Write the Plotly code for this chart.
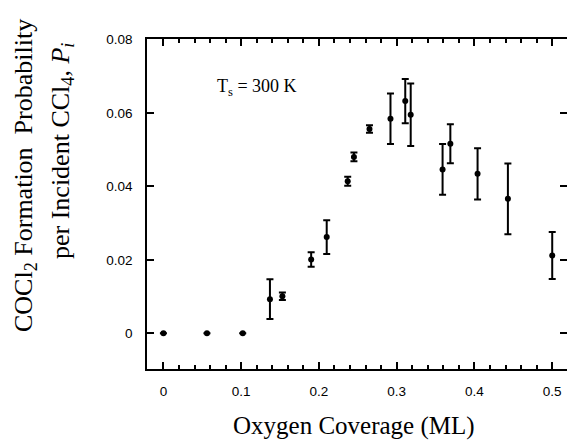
import plotly.graph_objects as go

# Data
coverage = [0.0, 0.056, 0.102, 0.137, 0.153, 0.190, 0.210, 0.237, 0.245,
            0.265, 0.292, 0.311, 0.318, 0.359, 0.369, 0.404, 0.443, 0.500]
probability = [0.0, 0.0, 0.0, 0.0093, 0.0101, 0.0201, 0.0262, 0.0414, 0.0480,
               0.0556, 0.0584, 0.0632, 0.0595, 0.0446, 0.0516, 0.0434, 0.0366, 0.0212]
error = [None, None, None, 0.0054, 0.0010, 0.0020, 0.0046, 0.0012, 0.0012,
         0.0010, 0.0069, 0.0060, 0.0085, 0.0069, 0.0053, 0.0070, 0.0096, 0.0064]

x_ticks = [0, 0.1, 0.2, 0.3, 0.4, 0.5]
y_ticks = [0, 0.02, 0.04, 0.06, 0.08]

SERIF = "Liberation Serif, Times New Roman, serif"
SANS = "Liberation Sans, Arial, sans-serif"

fig = go.Figure()
fig.add_trace(go.Scatter(
    x=coverage, y=probability, mode="markers",
    marker=dict(color="black", size=6),
    error_y=dict(type="data", array=error, visible=True,
                 color="black", thickness=2, width=3.5),
    showlegend=False,
))
# dummy trace to show the right-hand tick marks
fig.add_trace(go.Scatter(x=[None], y=[None], yaxis="y2", showlegend=False,
                         hoverinfo="skip"))

yr = [-0.0097, 0.0801]
fig.update_layout(
    width=567, height=440,
    margin=dict(l=147, r=0, t=39, b=71),
    paper_bgcolor="white", plot_bgcolor="white",
    xaxis=dict(
        range=[-0.0211, 0.519], tickvals=x_ticks,
        ticktext=[f"{v:g}" for v in x_ticks],
        ticks="inside", ticklen=7, tickwidth=1.5, tickcolor="black",
        minor=dict(dtick=0.02, tick0=0, ticks="inside", ticklen=4,
                   tickwidth=1.5, tickcolor="black", showgrid=False),
        showline=True, linecolor="black", linewidth=1.5, mirror="ticks",
        showgrid=False, zeroline=False,
        tickfont=dict(family=SANS, size=13.5, color="black"),
        ticklabelstandoff=9,
    ),
    yaxis=dict(
        range=yr, tickvals=y_ticks,
        ticktext=[f"{v:g}" for v in y_ticks],
        ticks="inside", ticklen=7, tickwidth=1.5, tickcolor="black",
        showline=True, linecolor="black", linewidth=1.5, mirror=False,
        showgrid=False, zeroline=False,
        tickfont=dict(family=SANS, size=13.5, color="black"),
        ticklabelstandoff=10,
    ),
    yaxis2=dict(
        range=yr, tickvals=y_ticks, overlaying="y", side="right",
        ticks="inside", ticklen=7, tickwidth=1.5, tickcolor="black",
        showticklabels=False, showline=False, showgrid=False, zeroline=False,
    ),
)

# convert pixel positions for the title annotations into paper coordinates
plot_l, plot_r, plot_t, plot_b = 147, 567, 39, 369
def px_to_paper(px, py):
    return (px - plot_l) / (plot_r - plot_l), (plot_b - py) / (plot_b - plot_t)

fig.add_annotation(text="T<sub>s</sub> = 300 K", x=0.066, y=0.0668,
                   xref="x", yref="y", xanchor="left", yanchor="middle",
                   showarrow=False, font=dict(family=SERIF, size=18, color="black"))

ax, ay = px_to_paper(354, 426)
fig.add_annotation(text="Oxygen Coverage (ML)", x=ax, y=ay,
                   xref="paper", yref="paper", xanchor="center", yanchor="middle",
                   showarrow=False, font=dict(family=SERIF, size=25, color="black"))

l1x, l1y = px_to_paper(25, 176)
l2x, l2y = px_to_paper(62, 151)
fig.add_annotation(text="COCl<sub>2</sub> Formation\u00a0\u00a0Probability",
                   x=l1x, y=l1y, xref="paper", yref="paper", textangle=-90,
                   xanchor="center", yanchor="middle",
                   showarrow=False, font=dict(family=SERIF, size=26, color="black"))
fig.add_annotation(text="per Incident CCl<sub>4</sub>, <i>P</i><sub><i>i</i></sub>",
                   x=l2x, y=l2y, xref="paper", yref="paper", textangle=-90,
                   xanchor="center", yanchor="middle",
                   showarrow=False, font=dict(family=SERIF, size=26, color="black"))

fig.write_html("out.html")
